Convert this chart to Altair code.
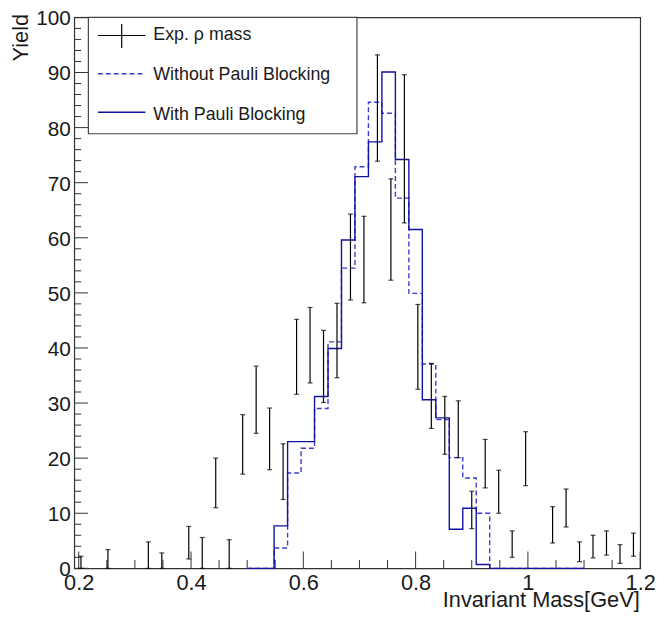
import altair as alt
import pandas as pd

# ---------------- data ----------------
# experimental points (bin centres, yield, error)
exp_mass = [0.204, 0.252, 0.324, 0.348, 0.396, 0.420, 0.444, 0.468, 0.492, 0.516,
            0.540, 0.564, 0.588, 0.612, 0.636, 0.660, 0.684, 0.708, 0.732, 0.756,
            0.780, 0.804, 0.828, 0.852, 0.876, 0.900, 0.924, 0.948, 0.972, 0.996,
            1.044, 1.068, 1.092, 1.116, 1.140, 1.164, 1.188]
exp_yield = [1.1, 1.7, 2.4, 1.4, 4.65, 2.8, 15.5, 2.6, 22.5, 30.6,
             23.5, 17.55, 38.4, 40.5, 36.65, 41.35, 56.5, 56.05, 83.55, 61.5,
             76.15, 40.2, 31.3, 25.95, 25.25, 10.6, 19.0, 13.9, 4.4, 19.9,
             7.9, 10.95, 3.0, 3.95, 4.6, 2.6, 4.3]
exp_err = [1.1, 1.7, 2.4, 1.4, 2.95, 2.8, 4.5, 2.6, 5.4, 6.1,
           5.6, 5.05, 6.8, 6.85, 6.55, 6.75, 7.8, 7.85, 9.65, 9.2,
           13.45, 7.7, 5.9, 5.25, 5.15, 3.4, 4.4, 3.9, 2.4, 4.9,
           3.3, 3.45, 1.8, 2.05, 2.2, 1.7, 2.1]

# model histograms (bin edges 0.5 .. 1.1)
hist_edges = [0.500, 0.524, 0.548, 0.572, 0.596, 0.620, 0.644, 0.668, 0.692, 0.716,
              0.740, 0.764, 0.788, 0.812, 0.836, 0.860, 0.884, 0.908, 0.932, 0.956,
              0.980, 1.004, 1.028, 1.052, 1.076, 1.100]
with_pb = [0, 0, 7.7, 23.0, 23.0, 31.2, 39.9, 59.6, 71.1, 77.4,
           90.1, 74.2, 61.5, 30.6, 27.3, 7.1, 10.9, 0.7, 0, 0,
           0, 0, 0, 0, 0]
without_pb = [0, 0, 3.7, 17.3, 21.8, 29.0, 41.1, 54.5, 72.9, 84.6,
              82.6, 67.2, 49.9, 37.1, 27.0, 20.1, 16.4, 10.0, 0, 0,
              0, 0, 0, 0, 0]

x_major = [0.2, 0.4, 0.6, 0.8, 1.0, 1.2]
x_minor = [0.25, 0.3, 0.35, 0.45, 0.5, 0.55, 0.65, 0.7, 0.75,
           0.85, 0.9, 0.95, 1.05, 1.1, 1.15]
y_major = [0, 10, 20, 30, 40, 50, 60, 70, 80, 90, 100]
y_minor = [v for v in range(2, 100, 2) if v % 10 != 0]

legend_labels = ["Exp. \u03c1 mass", "Without Pauli Blocking", "With Pauli Blocking"]

# ---------------- styling ----------------
W, H = 572.5, 557.3
FONT = "Liberation Sans"
TXT = "#1a1a1a"
FRAME = "#333333"
C_SOLID = "#12129c"
C_DASH = "#3c3cd0"

xs = alt.Scale(domain=[0.192, 1.2], nice=False, zero=False)
ys = alt.Scale(domain=[0, 100], nice=False, zero=True)

exp_df = pd.DataFrame({
    "m": exp_mass,
    "lo": [max(v - e, 0) for v, e in zip(exp_yield, exp_err)],
    "hi": [v + e for v, e in zip(exp_yield, exp_err)],
})

def step_df(vals):
    return pd.DataFrame({"x": hist_edges, "y": list(vals) + [vals[-1]]})

x_axis = alt.Axis(values=x_major, format="~g", ticks=False, domain=False, grid=False,
                  labelFont=FONT, labelFontSize=22, labelColor=TXT, labelPadding=4,
                  labelFlush=False, labelOverlap=False,
                  title="Invariant Mass[GeV]", titleFont=FONT, titleFontSize=22,
                  titleFontWeight="normal", titleColor=TXT, titleX=W - 1, titleY=39,
                  titleAlign="right", titleBaseline="alphabetic")
y_axis = alt.Axis(values=y_major, ticks=False, domain=False, grid=False,
                  labelFont=FONT, labelFontSize=21, labelColor=TXT, labelPadding=4,
                  labelOffset=1.5, labelFlush=False, labelOverlap=False,
                  title="Yield", titleFont=FONT, titleFontSize=22, titleFontWeight="normal",
                  titleColor=TXT, titleAngle=270, titleX=-47, titleY=-4,
                  titleAlign="right", titleBaseline="alphabetic")

def X(f):
    return alt.X(f, scale=xs, axis=x_axis)

def Y(f):
    return alt.Y(f, scale=ys, axis=y_axis)

# error bars
bars = alt.Chart(exp_df).mark_rule(color="black", strokeWidth=1.2).encode(
    x=X("m:Q"), y=Y("lo:Q"), y2="hi:Q")
cap_lo = alt.Chart(exp_df).mark_tick(color="black", orient="horizontal", size=5, thickness=1.2).encode(
    x=X("m:Q"), y=Y("lo:Q"))
cap_hi = alt.Chart(exp_df).mark_tick(color="black", orient="horizontal", size=5, thickness=1.2).encode(
    x=X("m:Q"), y=Y("hi:Q"))

line_without = alt.Chart(step_df(without_pb)).mark_line(
    interpolate="step-after", color=C_DASH, strokeWidth=1.4, strokeDash=[5, 3]).encode(
    x=X("x:Q"), y=Y("y:Q"))
line_with = alt.Chart(step_df(with_pb)).mark_line(
    interpolate="step-after", color=C_SOLID, strokeWidth=1.4).encode(
    x=X("x:Q"), y=Y("y:Q"))

# axis tick marks (inward, ROOT style)
xt_major = alt.Chart(pd.DataFrame({"t": x_major})).mark_rule(color=FRAME, strokeWidth=1).encode(
    x=X("t:Q"), y=alt.value(H), y2=alt.value(H - 17))
xt_minor = alt.Chart(pd.DataFrame({"t": x_minor})).mark_rule(color=FRAME, strokeWidth=1).encode(
    x=X("t:Q"), y=alt.value(H), y2=alt.value(H - 8.5))
yt_major = alt.Chart(pd.DataFrame({"t": y_major})).mark_rule(color=FRAME, strokeWidth=1).encode(
    y=Y("t:Q"), x=alt.value(0), x2=alt.value(14))
yt_minor = alt.Chart(pd.DataFrame({"t": y_minor})).mark_rule(color=FRAME, strokeWidth=1).encode(
    y=Y("t:Q"), x=alt.value(0), x2=alt.value(7))

# legend box
one = alt.Data(values=[{}])
leg_box = alt.Chart(one).mark_rect(fill="white", stroke="#444444", strokeWidth=1.2).encode(
    x=alt.value(14.3), x2=alt.value(286), y=alt.value(0), y2=alt.value(117.7))
leg_cross_h = alt.Chart(one).mark_rule(color="black", strokeWidth=1.2).encode(
    x=alt.value(24), x2=alt.value(72), y=alt.value(18.3))
leg_cross_v = alt.Chart(one).mark_rule(color="black", strokeWidth=1.2).encode(
    x=alt.value(48), y=alt.value(6.7), y2=alt.value(31))
leg_dash = alt.Chart(one).mark_rule(color=C_DASH, strokeWidth=1.4, strokeDash=[5, 3]).encode(
    x=alt.value(24), x2=alt.value(72), y=alt.value(57))
leg_solid = alt.Chart(one).mark_rule(color=C_SOLID, strokeWidth=1.4).encode(
    x=alt.value(24), x2=alt.value(72), y=alt.value(96))
leg_texts = [
    alt.Chart(one).mark_text(font=FONT, fontSize=18, color=TXT, align="left",
                             baseline="alphabetic").encode(
        x=alt.value(80), y=alt.value(yb), text=alt.value(lab))
    for lab, yb in zip(legend_labels, [23.3, 63.3, 103.3])
]

chart = alt.layer(
    xt_major, xt_minor, yt_major, yt_minor,
    line_without, line_with,
    bars, cap_lo, cap_hi,
    leg_box, leg_cross_h, leg_cross_v, leg_dash, leg_solid, *leg_texts,
).properties(
    width=W, height=H,
    autosize=alt.AutoSizeParams(type="none"),
    padding={"left": 67, "top": 6, "right": 16, "bottom": 45},
    background="white",
).configure_view(stroke=FRAME, strokeWidth=1.2)

chart.save("out.html", embed_options={"renderer": "svg", "actions": False})
